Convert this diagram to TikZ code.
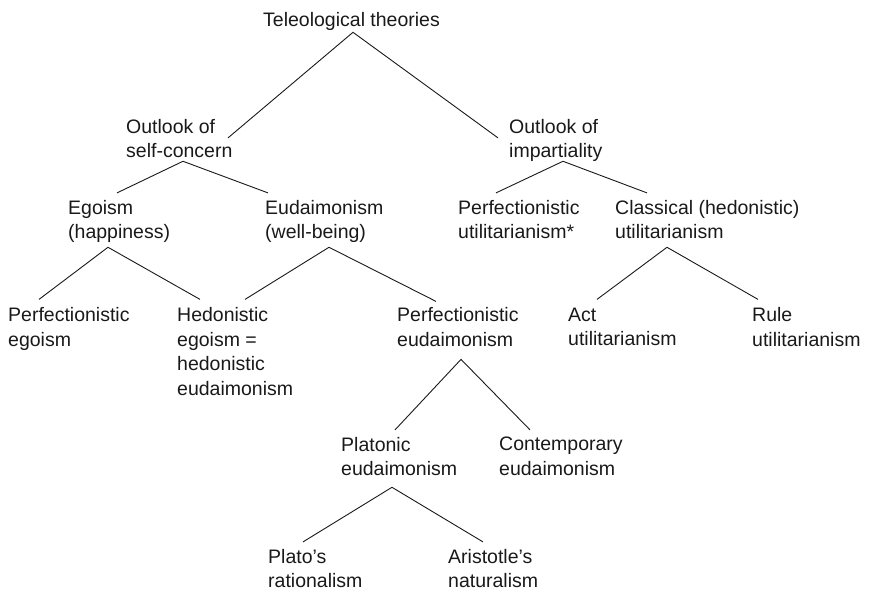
\documentclass[tikz,border=0pt]{standalone}
\usepackage{fontspec}
\setmainfont{Liberation Sans}
\newcommand{\theoryfont}{\fontsize{19.5}{24.5}\selectfont}

\tikzset{
  theory/.style={anchor=north west, inner sep=0pt, align=left, font=\theoryfont,
    text=black!90, execute at begin node=\strut, execute at end node=\strut},
  branch/.style={line width=0.9pt, black!90}
}

\begin{document}
\begin{tikzpicture}[x=1pt,y=-1pt]
  \useasboundingbox (0,0) rectangle (870,593);

  % top of the tree
  \node[theory] (tele) at (263,9.4) {Teleological theories};

  % the two outlooks
  \node[theory] (self) at (126,118.9) {Outlook of\\self-concern};
  \node[theory] (impart) at (509,118.9) {Outlook of\\impartiality};

  % third row
  \node[theory] (ego) at (68,199.9) {Egoism\\(happiness)};
  \node[theory] (eud) at (265,199.9) {Eudaimonism\\(well-being)};
  \node[theory] (perfutil) at (458,199.9) {Perfectionistic\\utilitarianism*};
  \node[theory] (class) at (615,199.9) {Classical (hedonistic)\\utilitarianism};

  % fourth row
  \node[theory] (perfego) at (8,307.4) {Perfectionistic\\egoism};
  \node[theory] (hedego) at (177,307.4) {Hedonistic\\egoism =\\hedonistic\\eudaimonism};
  \node[theory] (perfeud) at (397,307.4) {Perfectionistic\\eudaimonism};
  \node[theory] (act) at (568,307.4) {Act\\utilitarianism};
  \node[theory] (rule) at (752,307.4) {Rule\\utilitarianism};

  % fifth row
  \node[theory] (platonic) at (341,436.9) {Platonic\\eudaimonism};
  \node[theory] (contemp) at (499,436.9) {Contemporary\\eudaimonism};

  % bottom row
  \node[theory] (plato) at (268,548.9) {Plato’s\\rationalism};
  \node[theory] (arist) at (448,548.9) {Aristotle’s\\naturalism};

  % branches
  \draw[branch] ([xshift=102pt,yshift=-19pt]self.north west) -- ([xshift=90pt,yshift=2pt]tele.south west)
    -- ([xshift=-11pt,yshift=-19pt]impart.north west);
  \draw[branch] ([xshift=49pt,yshift=7pt]ego.north west) -- ([xshift=57pt,yshift=4pt]self.south west)
    -- ([xshift=3pt,yshift=7pt]eud.north west);
  \draw[branch] ([xshift=38pt,yshift=7pt]perfutil.north west) -- ([xshift=54pt,yshift=4pt]impart.south west)
    -- ([xshift=32pt,yshift=7pt]class.north west);
  \draw[branch] ([xshift=31pt,yshift=8pt]perfego.north west) -- ([xshift=40pt,yshift=-1pt]ego.south west)
    -- ([xshift=23pt,yshift=8pt]hedego.north west);
  \draw[branch] ([xshift=68pt,yshift=8pt]hedego.north west) -- ([xshift=64pt,yshift=-1pt]eud.south west)
    -- ([xshift=39pt,yshift=6pt]perfeud.north west);
  \draw[branch] ([xshift=29pt,yshift=8pt]act.north west) -- ([xshift=52pt,yshift=-1pt]class.south west)
    -- ([xshift=6pt,yshift=8pt]rule.north west);
  \draw[branch] ([xshift=54pt,yshift=7pt]platonic.north west) -- ([xshift=64pt,yshift=-5.6pt]perfeud.south west)
    -- ([xshift=31pt,yshift=7pt]contemp.north west);
  \draw[branch] ([xshift=35pt,yshift=7pt]plato.north west) -- ([xshift=51pt,yshift=-4pt]platonic.south west)
    -- ([xshift=35pt,yshift=7pt]arist.north west);
\end{tikzpicture}
\end{document}
